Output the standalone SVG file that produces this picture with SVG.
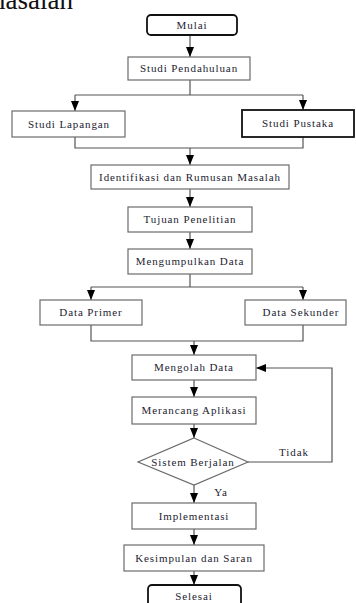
<svg xmlns="http://www.w3.org/2000/svg" width="356" height="603" viewBox="0 0 356 603">
  <style>
    .box { fill: #ffffff; stroke: #6b6b6b; stroke-width: 1.2; }
    .term { fill: #ffffff; stroke: #111111; stroke-width: 1.8; }
    .bold { fill: #ffffff; stroke: #111111; stroke-width: 1.8; }
    .lbl { font-family: "Liberation Serif", "Times New Roman", serif; font-size: 11px; letter-spacing: 0.9px; fill: #1c1c30; text-anchor: middle; }
    .edge { fill: none; stroke: #555555; stroke-width: 1.2; }
    .arr { marker-end: url(#head); }
    .head-text { font-family: "Liberation Serif", "Times New Roman", serif; font-size: 27px; fill: #111111; }
  </style>
  <defs>
    <marker id="head" viewBox="0 0 10 8" refX="10" refY="4" markerWidth="10" markerHeight="8" markerUnits="userSpaceOnUse" orient="auto">
      <path d="M0,0 L10,4 L0,8 z" fill="#000000"/>
    </marker>
  </defs>

  <rect width="356" height="603" fill="#ffffff"/>
  <text class="head-text" x="73" y="9" text-anchor="end">masalah</text>

  <g id="connectors">
    <path class="edge arr" d="M190,35 V57"/>
    <path class="edge" d="M190,80 V95 M75,95 H303"/>
    <path class="edge arr" d="M75,95 V111"/>
    <path class="edge arr" d="M303,95 V110"/>
    <path class="edge" d="M75,137 V148 H303 V137"/>
    <path class="edge arr" d="M190,148 V165"/>
    <path class="edge arr" d="M190,189 V207"/>
    <path class="edge arr" d="M190,232 V249"/>
    <path class="edge" d="M190,274 V287 M91,287 H303"/>
    <path class="edge arr" d="M91,287 V300"/>
    <path class="edge arr" d="M303,287 V300"/>
    <path class="edge" d="M91,325 V341 H303 V325"/>
    <path class="edge arr" d="M194,341 V355"/>
    <path class="edge arr" d="M194,380 V397"/>
    <path class="edge arr" d="M194,424 V438"/>
    <path class="edge arr" d="M194,485 V503"/>
    <path class="edge arr" d="M194,529 V545"/>
    <path class="edge arr" d="M194,571 V585"/>
    <path class="edge arr" d="M248,462 H332 V368 H256"/>
    <text class="lbl" x="294" y="456">Tidak</text>
    <text class="lbl" x="221" y="496">Ya</text>
  </g>

  <g id="mulai">
    <rect class="term" x="147" y="15" width="90" height="20" rx="4"/>
    <text class="lbl" x="192" y="29">Mulai</text>
  </g>
  <g id="studi-pendahuluan">
    <rect class="box" x="128" y="57" width="122" height="23"/>
    <text class="lbl" x="189" y="72">Studi Pendahuluan</text>
  </g>
  <g id="studi-lapangan">
    <rect class="box" x="12" y="111" width="113" height="26"/>
    <text class="lbl" x="69" y="128">Studi Lapangan</text>
  </g>
  <g id="studi-pustaka">
    <rect class="bold" x="242" y="110" width="112" height="27"/>
    <text class="lbl" x="298" y="127">Studi Pustaka</text>
  </g>
  <g id="identifikasi">
    <rect class="box" x="91" y="165" width="198" height="24"/>
    <text class="lbl" x="190" y="181">Identifikasi dan Rumusan Masalah</text>
  </g>
  <g id="tujuan">
    <rect class="box" x="128" y="207" width="124" height="25"/>
    <text class="lbl" x="190" y="223">Tujuan Penelitian</text>
  </g>
  <g id="mengumpulkan">
    <rect class="box" x="128" y="249" width="124" height="25"/>
    <text class="lbl" x="190" y="265">Mengumpulkan Data</text>
  </g>
  <g id="data-primer">
    <rect class="box" x="40" y="300" width="102" height="25"/>
    <text class="lbl" x="91" y="316">Data Primer</text>
  </g>
  <g id="data-sekunder">
    <rect class="box" x="245" y="300" width="101" height="25"/>
    <text class="lbl" x="301" y="316">Data Sekunder</text>
  </g>
  <g id="mengolah">
    <rect class="box" x="132" y="355" width="124" height="25"/>
    <text class="lbl" x="194" y="371">Mengolah Data</text>
  </g>
  <g id="merancang">
    <rect class="box" x="132" y="397" width="124" height="27"/>
    <text class="lbl" x="194" y="414">Merancang Aplikasi</text>
  </g>
  <g id="sistem-berjalan">
    <polygon class="box" points="194,438 248,462 194,485 138,462"/>
    <text class="lbl" x="193" y="466">Sistem Berjalan</text>
  </g>
  <g id="implementasi">
    <rect class="box" x="132" y="503" width="124" height="26"/>
    <text class="lbl" x="194" y="520">Implementasi</text>
  </g>
  <g id="kesimpulan">
    <rect class="box" x="124" y="545" width="140" height="26"/>
    <text class="lbl" x="194" y="562">Kesimpulan dan Saran</text>
  </g>
  <g id="selesai">
    <rect class="term" x="148" y="585" width="93" height="24" rx="4"/>
    <text class="lbl" x="194" y="600">Selesai</text>
  </g>
</svg>
